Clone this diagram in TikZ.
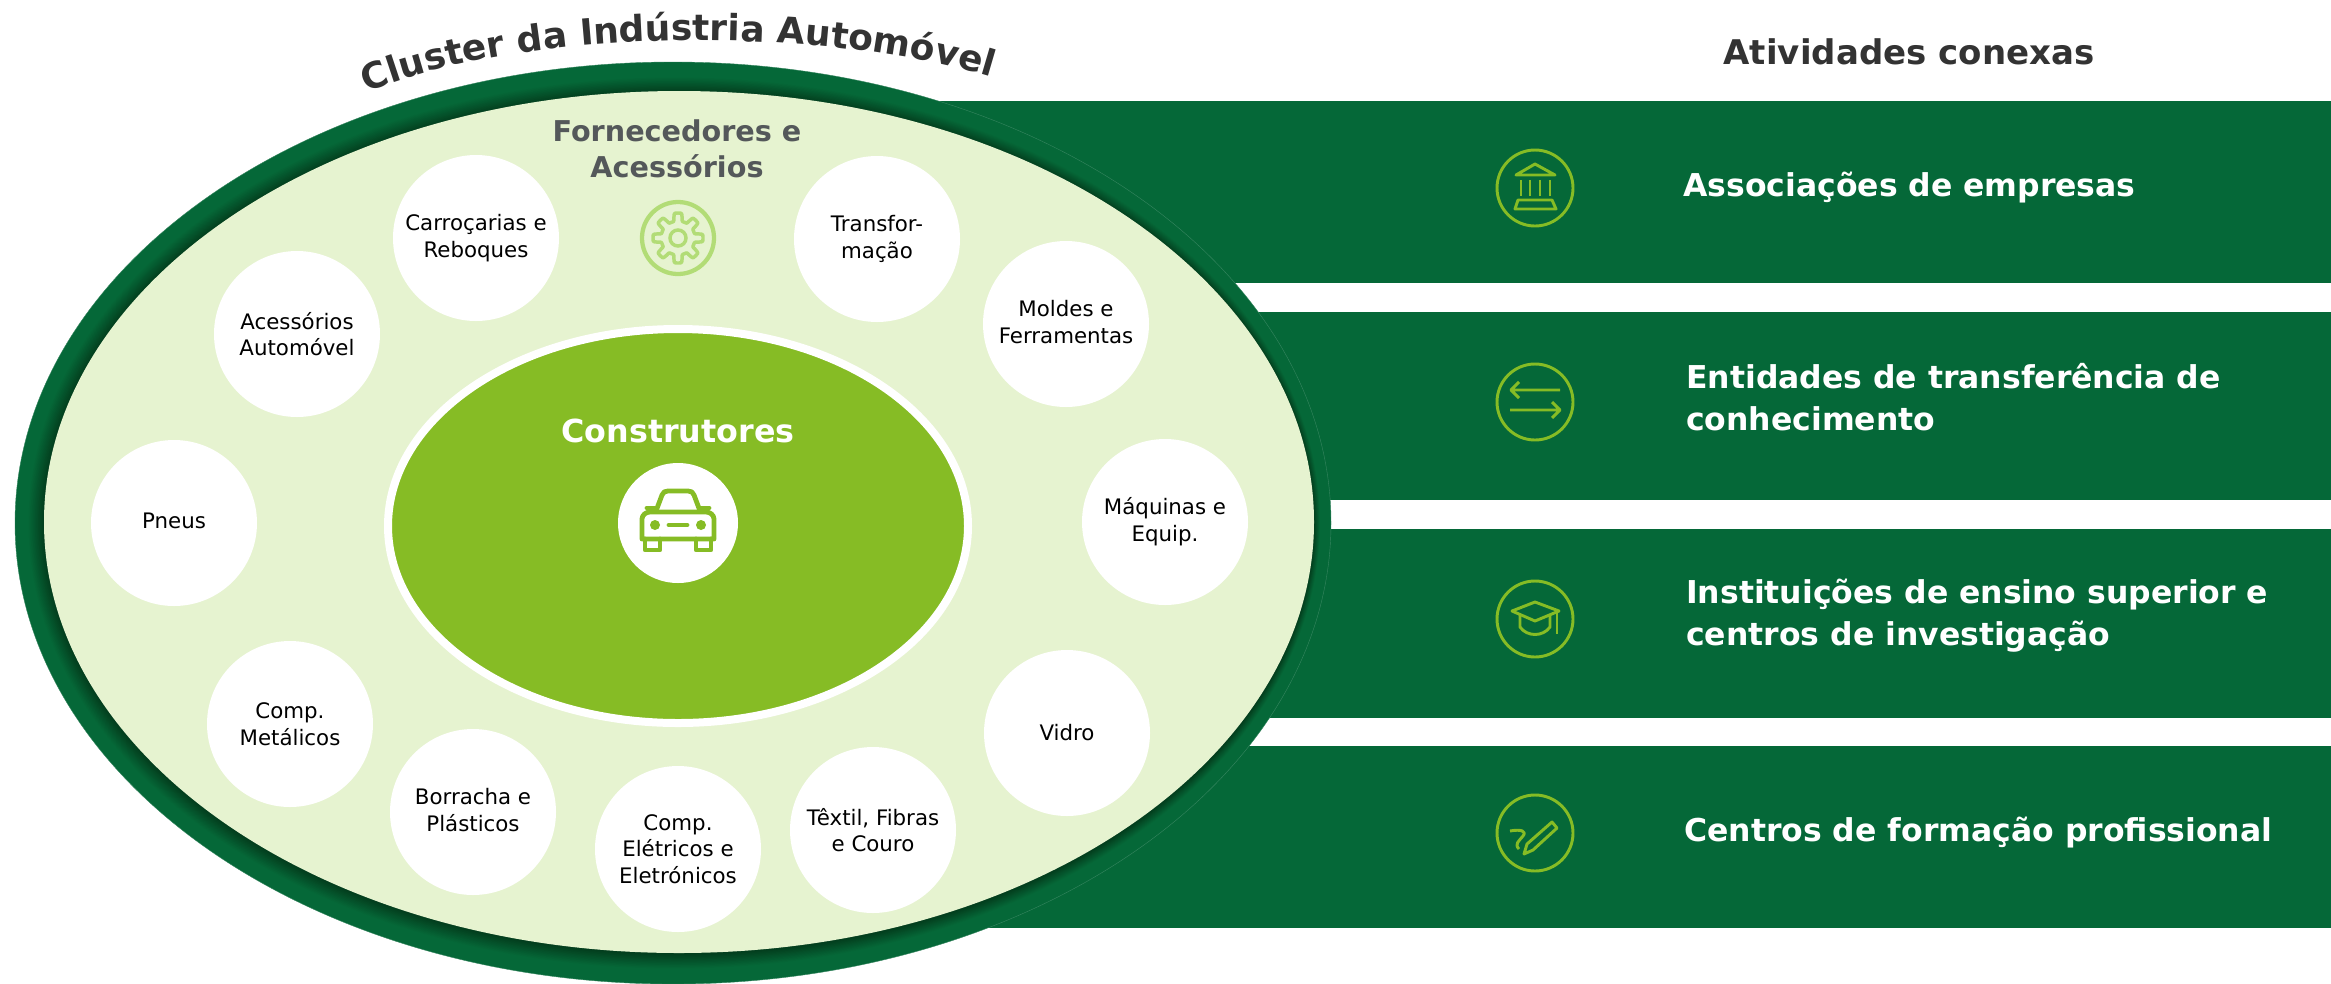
\documentclass[tikz,border=0pt]{standalone}
\usepackage{fontspec}
\setmainfont{DejaVu Sans}
\usetikzlibrary{decorations.text}

\definecolor{barGreen}{RGB}{5,104,56}
\definecolor{darkGreen}{RGB}{3,62,30}
\definecolor{coreGreen}{RGB}{134,188,37}
\definecolor{paleGreen}{RGB}{230,243,208}
\definecolor{gearGreen}{RGB}{178,220,118}
\definecolor{titleGray}{RGB}{51,51,51}
\definecolor{subGray}{RGB}{84,88,90}

\newcommand{\liftline}[1]{\raisebox{3.5pt}{#1}}

\tikzset{
  supplier/.style={circle,fill=white,minimum size=124.5pt,inner sep=0pt,align=center,
    font=\fontsize{16}{20}\selectfont,text=black},
  barlabel/.style={anchor=west,inner sep=0pt,align=left,text=white,
    font=\fontsize{23.6}{31.5}\selectfont\bfseries},
  iconring/.style={circle,draw=coreGreen,line width=2.2pt,minimum size=57pt,inner sep=0pt},
  iconline/.style={draw=coreGreen,line width=2.2pt,line join=round},
  carline/.style={draw=coreGreen,line width=3.6pt,line join=round,line cap=round}
}

\begin{document}
\begin{tikzpicture}[x=0.75pt,y=0.75pt,yscale=-1,xscale=1]
  \useasboundingbox (0,0) rectangle (2331,983);

  %Shape: Bars
  \fill [barGreen] (900,101) rectangle (2331,283);
  \fill [barGreen] (900,312) rectangle (2331,500);
  \fill [barGreen] (900,529) rectangle (2331,718);
  \fill [barGreen] (900,746) rectangle (2331,928);

  %Shape: Outer ring, darker towards the inside
  \draw [fill=barGreen,draw=barGreen!80!white,line width=0.3pt] (673,523) ellipse [x radius=658,y radius=461];
  \foreach \t in {0,4,...,100} {
    \pgfmathsetmacro{\cx}{674+5*\t/100}
    \pgfmathsetmacro{\rx}{646-11*\t/100}
    \pgfmathsetmacro{\ry}{446-15*\t/100}
    \fill [darkGreen!\t!barGreen] (\cx,523) ellipse [x radius=\rx,y radius=\ry];
  }
  %Shape: Supplier area
  \fill [paleGreen] (679,522) ellipse [x radius=635,y radius=431];

  %Shape: Core ellipse
  \draw [draw=white,line width=6pt,fill=coreGreen] (678,526) ellipse [x radius=290,y radius=197];

  % Text Node
  \draw (678,431) node [inner sep=0pt,text=white,font=\fontsize{23.8}{28}\selectfont\bfseries] (core) {Construtores};
  %Shape: Car badge
  \draw (678,523) node [circle,fill=white,minimum size=90pt,inner sep=0pt] (carbadge) {};
  \begin{scope}[shift={(carbadge.center)}]
    \draw [carline] (-36,-4) .. controls (-36,-8) and (-32,-11) .. (-28,-11) -- (28,-11) .. controls (32,-11) and (36,-8) .. (36,-4) -- (36,16) -- (-36,16) -- cycle;
    \draw [carline] (-22,-12) -- (-16,-28) .. controls (-15,-31) and (-13,-32) .. (-10,-32) -- (10,-32) .. controls (13,-32) and (15,-31) .. (16,-28) -- (22,-12);
    \draw [carline] (-31,-15) -- (-24,-15) (24,-15) -- (31,-15);
    \draw [carline] (-9,2) -- (9,2);
    \fill [coreGreen] (-23,2) circle [radius=5] (23,2) circle [radius=5];
    \draw [carline] (-33,16) -- (-33,27) -- (-18,27) -- (-18,16) (18,16) -- (18,27) -- (33,27) -- (33,16);
  \end{scope}

  % Text Node
  \draw (677,149) node [inner sep=0pt,align=center,text=subGray,font=\fontsize{21.5}{27}\selectfont\bfseries] (suppliers) {Fornecedores e\\Acessórios};
  %Shape: Gear badge
  \draw (678,238) node [circle,draw=gearGreen,line width=3.2pt,minimum size=54pt,inner sep=0pt] (gearbadge) {};
  \begin{scope}[shift={(gearbadge.center)}]
    \draw [gearGreen,line width=2.6pt,line join=round]
      plot [samples=161,domain=0:360] ({(21+4*max(-1,min(1,2.5*cos(8*\x))))*cos(\x)},{(21+4*max(-1,min(1,2.5*cos(8*\x))))*sin(\x)});
    \draw [gearGreen,line width=2.6pt] (0,0) circle [radius=8];
  \end{scope}

  % Text Node
  \draw (476,238) node [supplier] (carrocarias) {Carroçarias e\\Reboques};
  \draw (877,239) node [supplier] (transformacao) {Transfor-\\mação};
  \draw (1066,324) node [supplier] (moldes) {\liftline{Moldes e}\\\liftline{Ferramentas}};
  \draw (1165,522) node [supplier] (maquinas) {Máquinas e\\Equip.};
  \draw (1067,733) node [supplier] (vidro) {Vidro};
  \draw (873,830) node [supplier] (textil) {Têxtil, Fibras\\e Couro};
  \draw (678,849) node [supplier] (eletricos) {Comp.\\Elétricos e\\Eletrónicos};
  \draw (473,812) node [supplier] (borracha) {\liftline{Borracha e}\\\liftline{Plásticos}};
  \draw (290,724) node [supplier] (metalicos) {Comp.\\Metálicos};
  \draw (174,523) node [supplier] (pneus) {\liftline{Pneus}};
  \draw (297,334) node [supplier] (acessorios) {Acessórios\\Automóvel};

  % Curved title
  \path [decorate,decoration={text along path,text align=center,
      text={|\fontsize{27}{27}\selectfont\bfseries\color{titleGray}|Cluster da Indústria Automóvel}}]
    (358,96) .. controls (520,25) and (830,25) .. (1000,80);

  % Text Node
  \draw (1909,52) node [inner sep=0pt,text=titleGray,font=\fontsize{25.5}{28}\selectfont\bfseries] (related) {Atividades conexas};
  \draw (1683,188) node [barlabel] (associacoes) {Associações de empresas};
  \draw (1686,397) node [barlabel] (entidades) {Entidades de transferência de\\conhecimento};
  \draw (1686,616) node [barlabel] (instituicoes) {Instituições de ensino superior e\\centros de investigação};
  \draw (1684,833) node [barlabel] (centros) {Centros de formação profissional};

  %Shape: Bank icon
  \draw (1535,188) node [iconring] (iconbank) {};
  \begin{scope}[shift={(iconbank.center)}]
    \draw [iconline] (-19,-13) -- (0,-24) -- (20,-13) -- cycle;
    \draw [iconline] (-14,-8) -- (-14,8) (-5,-8) -- (-5,8) (5,-8) -- (5,8) (15,-8) -- (15,8);
    \draw [iconline] (-17,12) -- (17,12) -- (21,21) -- (-20,21) -- cycle;
  \end{scope}

  %Shape: Transfer icon
  \draw (1535,402) node [iconring] (icontransfer) {};
  \begin{scope}[shift={(icontransfer.center)}]
    \draw [iconline] (-24,-12) -- (25,-12) (-16,-20) -- (-24,-12) -- (-16,-4);
    \draw [iconline] (-25,8) -- (25,8) (17,0) -- (25,8) -- (17,16);
  \end{scope}

  %Shape: Cap icon
  \draw (1535,619) node [iconring] (iconcap) {};
  \begin{scope}[shift={(iconcap.center)}]
    \draw [iconline] (-23,-8) -- (0,-17) -- (24,-8) -- (0,2) -- cycle;
    \draw [iconline] (-15,-4) -- (-15,8) .. controls (-8,18) and (8,18) .. (15,8) -- (15,-4);
    \draw [iconline] (22,-8) -- (22,15);
  \end{scope}

  %Shape: Pen icon
  \draw (1535,833) node [iconring] (iconpen) {};
  \begin{scope}[shift={(iconpen.center)}]
    \draw [iconline] (-11,21) -- (-8,11) -- (17,-11) -- (22,-5) -- (-2,17) -- cycle;
    \draw [iconline] (-25,-2) .. controls (-14,-4) and (-8,-2) .. (-12,3) .. controls (-16,8) and (-21,11) .. (-16,16);
  \end{scope}
\end{tikzpicture}
\end{document}
